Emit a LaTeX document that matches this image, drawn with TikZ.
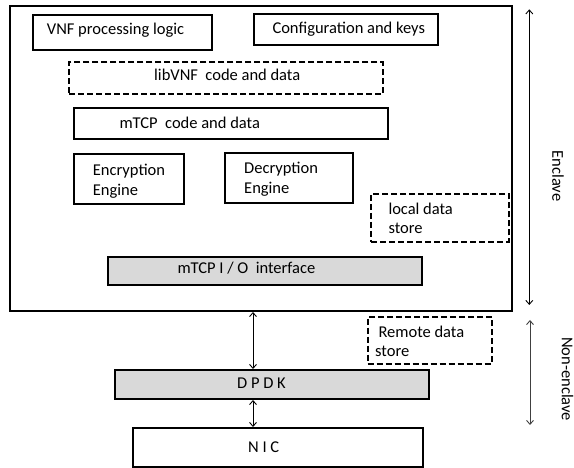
\documentclass[tikz,border=0pt]{standalone}
\usepackage{fontspec}
\setmainfont{Carlito}
\usetikzlibrary{arrows.meta}

\begin{document}
\begin{tikzpicture}[x=1pt, y=-1pt,
  box/.style={draw, line width=2pt, anchor=north west, inner sep=0pt},
  dbox/.style={box, dash pattern=on 6pt off 3pt},
  gbox/.style={box, fill=black!15},
  txt/.style={anchor=base west, align=left, inner sep=0pt, font=\fontsize{16.5}{19.7}\selectfont},
  link/.style={{Straight Barb[length=4pt,width=7pt]}-{Straight Barb[length=4pt,width=7pt]}, line width=0.9pt}]

\useasboundingbox (0,0) rectangle (574,468);

% enclave box
\node [box, minimum width=502.5pt, minimum height=305pt] (enclave) at (8.5,5) {};

% boxes inside the enclave
\node [box, minimum width=178.7pt, minimum height=35pt] (vnf) at (32.3,14) {};
\node [txt] (vnf-t) at ([shift={(14.4,21)}]vnf.north west) {VNF processing logic};

\node [box, minimum width=184pt, minimum height=31.6pt] (conf) at (252.7,12.7) {};
\node [txt] (conf-t) at ([shift={(19.6,20.6)}]conf.north west) {Configuration and keys};

\node [dbox, minimum width=313.4pt, minimum height=32.3pt] (libvnf) at (68.3,61) {};
\node [txt] (libvnf-t) at ([shift={(85.7,20)}]libvnf.north west) {libVNF\ \ code and data};

\node [box, minimum width=313.4pt, minimum height=31pt] (mtcp) at (73.3,106.7) {};
\node [txt] (mtcp-t) at ([shift={(46,22.3)}]mtcp.north west) {mTCP\ \ code and data};

% two-line texts are placed by their last line
\node [box, minimum width=110pt, minimum height=50pt] (encr) at (73.3,153.3) {};
\node [txt] (encr-t) at ([shift={(19.4,42.2)}]encr.north west) {Encryption\\Engine};

\node [box, minimum width=127.4pt, minimum height=50.5pt] (decr) at (224.3,151.7) {};
\node [txt] (decr-t) at ([shift={(19.7,41.6)}]decr.north west) {Decryption\\Engine};

\node [dbox, minimum width=137.5pt, minimum height=48pt] (local) at (370,193) {};
\node [txt] (local-t) at ([shift={(18.3,41)}]local.north west) {local data\\store};

\node [gbox, minimum width=313.7pt, minimum height=28.3pt] (io) at (107.3,256) {};
\node [txt] (io-t) at ([shift={(70,17.3)}]io.north west) {mTCP I / O\ \ interface};

% outside the enclave
\node [dbox, minimum width=124.3pt, minimum height=46.7pt] (remote) at (366.7,316) {};
\node [txt] (remote-t) at ([shift={(8.3,40.7)}]remote.north west) {\hspace*{3.3pt}Remote data\\store};

\node [gbox, minimum width=314pt, minimum height=29pt] (dpdk) at (114,369) {};
\node [txt] (dpdk-t) at ([shift={(123,19.3)}]dpdk.north west) {D P D K};

\node [box, minimum width=290pt, minimum height=39pt] (nic) at (132,427) {};
\node [txt] (nic-t) at ([shift={(116,25.3)}]nic.north west) {N I C};

% connectors
\coordinate (bus) at (253,0);
\draw [link] (enclave.south -| bus) -- (dpdk.north -| bus);
\draw [link] (dpdk.south -| bus) -- (nic.north -| bus);

% side arrows
\coordinate (enc-top) at (529.3,9.3);
\coordinate (enc-bot) at (529.3,305);
\coordinate (non-top) at (530,320);
\coordinate (non-bot) at (530,425);
\draw [link] (enc-top) -- (enc-bot);
\draw [link, black!75] (non-top) -- (non-bot);
\node [rotate=-90, font=\fontsize{16.5}{19.7}\selectfont] (enc-lbl) at (558,176) {Enclave};
\node [rotate=-90, font=\fontsize{16.5}{19.7}\selectfont] (non-lbl) at (567.5,379) {Non-enclave};

\end{tikzpicture}
\end{document}
